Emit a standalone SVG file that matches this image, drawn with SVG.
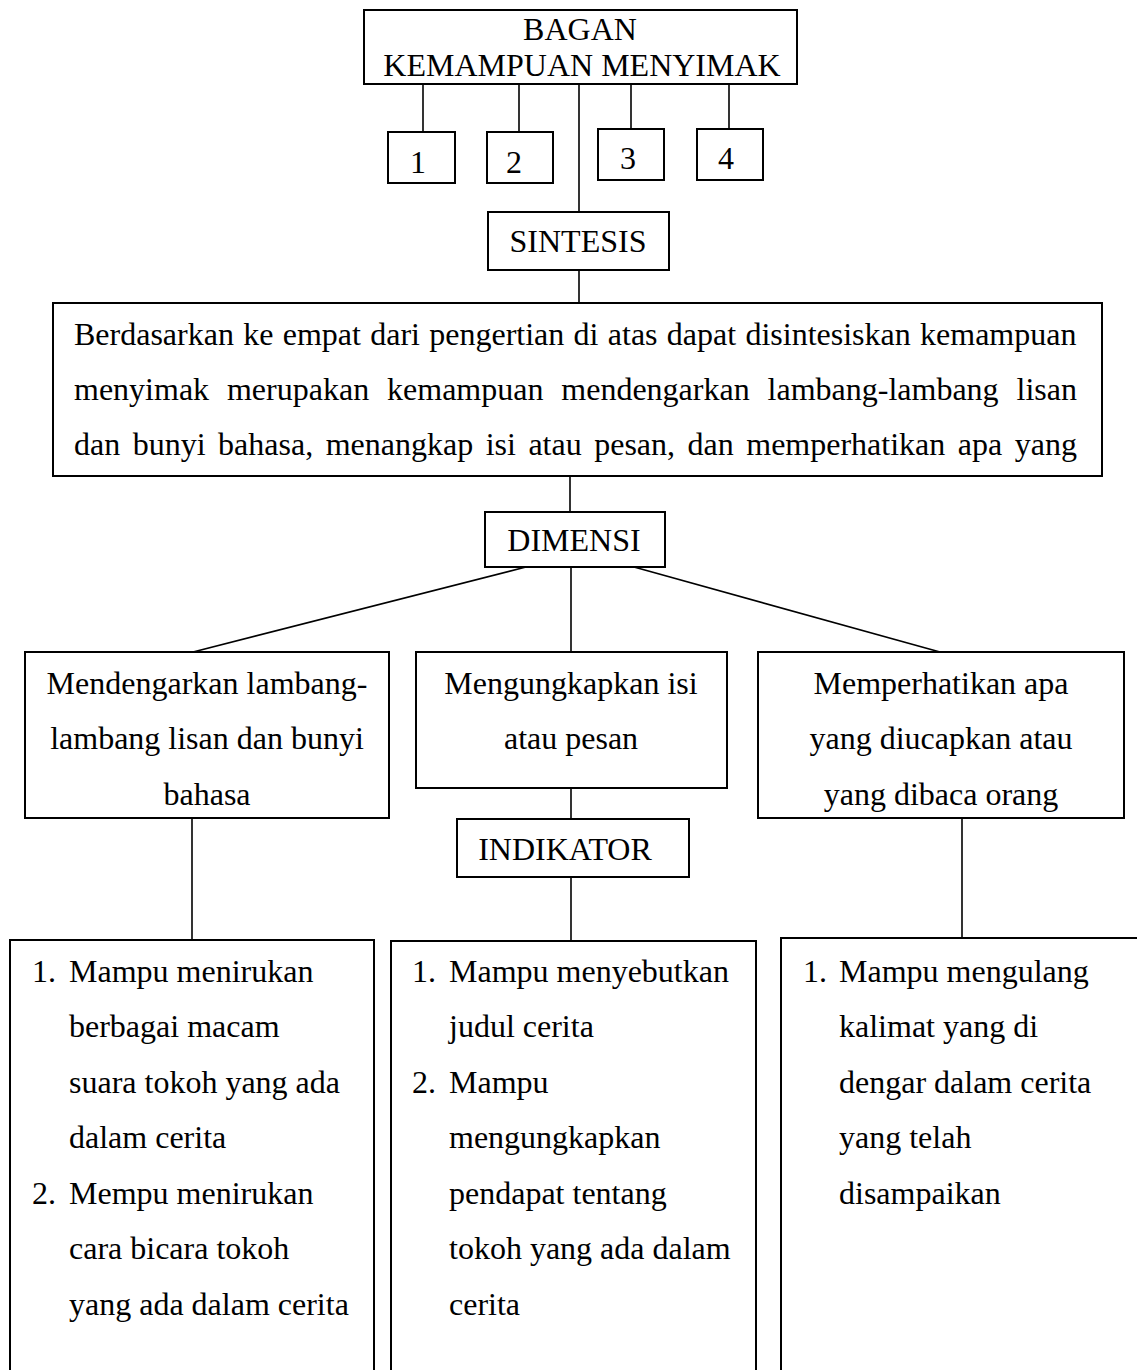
<svg xmlns="http://www.w3.org/2000/svg" width="1137" height="1370" viewBox="0 0 1137 1370">
<style>
.box{fill:#fff;stroke:#000;stroke-width:2}
.open{fill:none;stroke:#000;stroke-width:2}
.con line{stroke:#000;stroke-width:1.6}
text{font-family:"Liberation Serif","Times New Roman",serif;font-size:32px;fill:#000}
.c{text-anchor:middle}
</style>
<rect width="1137" height="1370" fill="#fff"/>
<g id="connectors" class="con">
<line x1="423" y1="84" x2="423" y2="132"/>
<line x1="519" y1="84" x2="519" y2="132"/>
<line x1="631" y1="84" x2="631" y2="129"/>
<line x1="729" y1="84" x2="729" y2="129"/>
<line x1="579" y1="84" x2="579" y2="212"/>
<line x1="579" y1="270" x2="579" y2="303"/>
<line x1="570" y1="476" x2="570" y2="512"/>
<line x1="526" y1="567" x2="193" y2="652"/>
<line x1="571" y1="567" x2="571" y2="652"/>
<line x1="634" y1="567" x2="940" y2="652"/>
<line x1="571" y1="788" x2="571" y2="819"/>
<line x1="571" y1="877" x2="571" y2="941"/>
<line x1="192" y1="818" x2="192" y2="940"/>
<line x1="962" y1="818" x2="962" y2="938"/>
</g>
<g id="title">
<rect class="box" x="364" y="10" width="433" height="74"/>
<text class="c" x="580" y="40">BAGAN</text>
<text class="c" x="582" y="76">KEMAMPUAN MENYIMAK</text>
</g>
<g id="n1"><rect class="box" x="388" y="132" width="67" height="51"/><text class="c" x="418" y="173">1</text></g>
<g id="n2"><rect class="box" x="487" y="132" width="66" height="51"/><text class="c" x="514" y="173">2</text></g>
<g id="n3"><rect class="box" x="598" y="129" width="66" height="51"/><text class="c" x="628" y="169">3</text></g>
<g id="n4"><rect class="box" x="697" y="129" width="66" height="51"/><text class="c" x="726" y="169">4</text></g>
<g id="sintesis">
<rect class="box" x="488" y="212" width="181" height="58"/>
<text class="c" x="578" y="252">SINTESIS</text>
</g>
<g id="definisi">
<rect class="box" x="53" y="303" width="1049" height="173"/>
<text x="74" y="345" style="word-spacing:1.3px">Berdasarkan ke empat dari pengertian di atas dapat disintesiskan kemampuan</text>
<text x="74" y="400" style="word-spacing:9.9px">menyimak merupakan kemampuan mendengarkan lambang-lambang lisan</text>
<text x="74" y="455" style="word-spacing:4.5px">dan bunyi bahasa, menangkap isi atau pesan, dan memperhatikan apa yang</text>
</g>
<g id="dimensi">
<rect class="box" x="485" y="512" width="180" height="55"/>
<text class="c" x="574" y="551">DIMENSI</text>
</g>
<g id="dim1">
<rect class="box" x="25" y="652" width="364" height="166"/>
<text class="c" x="207" y="694">Mendengarkan lambang-</text>
<text class="c" x="207" y="749">lambang lisan dan bunyi</text>
<text class="c" x="207" y="805">bahasa</text>
</g>
<g id="dim2">
<rect class="box" x="416" y="652" width="311" height="136"/>
<text class="c" x="571" y="694">Mengungkapkan isi</text>
<text class="c" x="571" y="749">atau pesan</text>
</g>
<g id="dim3">
<rect class="box" x="758" y="652" width="366" height="166"/>
<text class="c" x="941" y="694">Memperhatikan apa</text>
<text class="c" x="941" y="749">yang diucapkan atau</text>
<text class="c" x="941" y="805">yang dibaca orang</text>
</g>
<g id="indikator">
<rect class="box" x="457" y="819" width="232" height="58"/>
<text class="c" x="565" y="860">INDIKATOR</text>
</g>
<g id="ind1">
<path class="open" d="M10,1370 V940 H374 V1370"/>
<text x="32" y="982">1.</text>
<text x="69" y="982">Mampu menirukan</text>
<text x="69" y="1037">berbagai macam</text>
<text x="69" y="1093">suara tokoh yang ada</text>
<text x="69" y="1148">dalam cerita</text>
<text x="32" y="1204">2.</text>
<text x="69" y="1204">Mempu menirukan</text>
<text x="69" y="1259">cara bicara tokoh</text>
<text x="69" y="1315">yang ada dalam cerita</text>
</g>
<g id="ind2">
<path class="open" d="M391,1370 V941 H756 V1370"/>
<text x="412" y="982">1.</text>
<text x="449" y="982">Mampu menyebutkan</text>
<text x="449" y="1037">judul cerita</text>
<text x="412" y="1093">2.</text>
<text x="449" y="1093">Mampu</text>
<text x="449" y="1148">mengungkapkan</text>
<text x="449" y="1204">pendapat tentang</text>
<text x="449" y="1259">tokoh yang ada dalam</text>
<text x="449" y="1315">cerita</text>
</g>
<g id="ind3">
<path class="open" d="M781,1370 V938 H1137"/>
<text x="803" y="982">1.</text>
<text x="839" y="982">Mampu mengulang</text>
<text x="839" y="1037">kalimat yang di</text>
<text x="839" y="1093">dengar dalam cerita</text>
<text x="839" y="1148">yang telah</text>
<text x="839" y="1204">disampaikan</text>
</g>
</svg>
